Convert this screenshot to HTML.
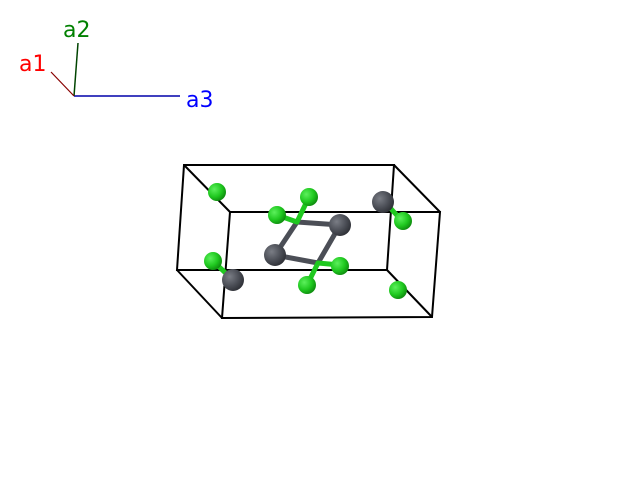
<!DOCTYPE html>
<html><head><style>html,body{margin:0;padding:0;background:#fff;}svg{display:block}</style></head>
<body>
<svg width="617" height="483" viewBox="0 0 617 483" xmlns="http://www.w3.org/2000/svg">
<defs>
<radialGradient id="g" cx="0.35" cy="0.35" r="0.7"><stop offset="0" stop-color="#5cf05c"/><stop offset="0.6" stop-color="#1fc81f"/><stop offset="1" stop-color="#0e8a0e"/></radialGradient>
<radialGradient id="k" cx="0.35" cy="0.35" r="0.7"><stop offset="0" stop-color="#7a7d85"/><stop offset="0.6" stop-color="#4b4e56"/><stop offset="1" stop-color="#2e3036"/></radialGradient>
</defs>
<g font-family="DejaVu Sans, sans-serif" font-size="22">
<line x1="74" y1="96" x2="180" y2="96" stroke="#0000aa" stroke-width="1.5"/>
<line x1="74" y1="96" x2="78" y2="43" stroke="#004400" stroke-width="1.5"/>
<line x1="74" y1="96" x2="51" y2="72" stroke="#880000" stroke-width="1.2"/>
<text x="63" y="37" fill="#008000">a2</text>
<text x="19" y="71" fill="#ff0000">a1</text>
<text x="186" y="107" fill="#0000ff">a3</text>
</g>
<g stroke="#000" stroke-width="2" fill="none">
<polygon points="184,165 394,165 387,270 177,270"/>
<polygon points="230,212 440,212 432,317 222,318"/>
<line x1="184" y1="165" x2="230" y2="212"/>
<line x1="394" y1="165" x2="440" y2="212"/>
<line x1="177" y1="270" x2="222" y2="318"/>
<line x1="387" y1="270" x2="432" y2="317"/>
</g>
<circle cx="217" cy="192" r="9" fill="url(#g)"/>
<line x1="213" y1="261" x2="233" y2="280" stroke="#1fc81f" stroke-width="5"/>
<circle cx="213" cy="261" r="9" fill="url(#g)"/>
<line x1="383" y1="200" x2="403" y2="222" stroke="#1fc81f" stroke-width="5"/>
<circle cx="383" cy="202" r="11" fill="url(#k)"/>
<circle cx="403" cy="221" r="9" fill="url(#g)"/>
<g stroke-width="5" stroke-linecap="round">
<line x1="297" y1="222" x2="340" y2="225" stroke="#4b4e56"/>
<line x1="297" y1="222" x2="275" y2="255" stroke="#4b4e56"/>
<line x1="318" y1="263" x2="275" y2="255" stroke="#4b4e56"/>
<line x1="318" y1="263" x2="340" y2="225" stroke="#4b4e56"/>
<line x1="309" y1="197" x2="297" y2="222" stroke="#1fc81f"/>
<line x1="277" y1="215" x2="297" y2="222" stroke="#1fc81f"/>
<line x1="340" y1="265" x2="318" y2="263" stroke="#1fc81f"/>
<line x1="307" y1="285" x2="318" y2="263" stroke="#1fc81f"/>
</g>
<circle cx="309" cy="197" r="9" fill="url(#g)"/>
<circle cx="277" cy="215" r="9" fill="url(#g)"/>
<circle cx="340" cy="225" r="11" fill="url(#k)"/>
<circle cx="275" cy="255" r="11" fill="url(#k)"/>
<circle cx="340" cy="266" r="9" fill="url(#g)"/>
<circle cx="307" cy="285" r="9" fill="url(#g)"/>
<circle cx="233" cy="280" r="11" fill="url(#k)"/>
<circle cx="398" cy="290" r="9" fill="url(#g)"/>
</svg>
</body></html>
